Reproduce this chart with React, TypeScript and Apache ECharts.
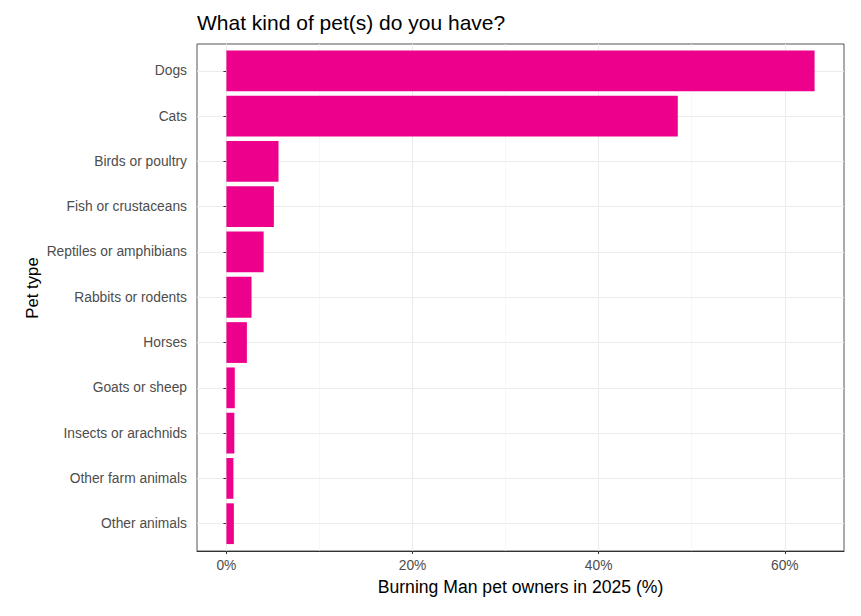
import React, { useEffect, useRef } from "react";
import * as echarts from "echarts";

const categories = [
  "Dogs",
  "Cats",
  "Birds or poultry",
  "Fish or crustaceans",
  "Reptiles or amphibians",
  "Rabbits or rodents",
  "Horses",
  "Goats or sheep",
  "Insects or arachnids",
  "Other farm animals",
  "Other animals",
];
const values = [63.2, 48.5, 5.6, 5.1, 4.0, 2.7, 2.2, 0.9, 0.85, 0.75, 0.8];
const majorTicks = [0, 20, 40, 60];
const minorTicks = [10, 30, 50];
const xMin = -3.16;
const xMax = 66.36;

const TITLE = "What kind of pet(s) do you have?";
const X_NAME = "Burning Man pet owners in 2025 (%)";
const Y_NAME = "Pet type";

const FONT = "'Liberation Sans', Arial, sans-serif";

export default function App() {
  const ref = useRef<HTMLDivElement>(null);
  useEffect(() => {
    if (!ref.current) return;
    const chart = echarts.init(ref.current, null, { renderer: "svg" });
    chart.setOption({
      animation: false,
      backgroundColor: "#ffffff",
      title: {
        text: TITLE,
        left: 197,
        top: 12,
        padding: 0,
        textStyle: { fontSize: 21, fontWeight: "normal", color: "#000", fontFamily: FONT },
      },
      graphic: [
        {
          type: "text",
          x: 32,
          y: 288,
          rotation: Math.PI / 2,
          style: {
            text: Y_NAME,
            align: "center",
            verticalAlign: "middle",
            fontSize: 16.8,
            fontFamily: FONT,
            fill: "#000",
          },
        },
      ],
      grid: [
        { left: 197, right: 17, top: 70.8, bottom: 92.3 },
        {
          left: 197,
          right: 17,
          top: 44,
          bottom: 65,
          show: true,
          borderColor: "#555",
          borderWidth: 1,
          backgroundColor: "transparent",
        },
      ],
      xAxis: [
        { gridIndex: 0, type: "value", min: xMin, max: xMax, show: false },
        {
          gridIndex: 1,
          type: "value",
          min: xMin,
          max: xMax,
          axisLine: { show: true, onZero: false, lineStyle: { color: "#333", width: 1 } },
          axisTick: { show: true, length: 3, customValues: majorTicks, lineStyle: { color: "#333" } },
          axisLabel: {
            customValues: majorTicks,
            formatter: "{value}%",
            color: "#4d4d4d",
            fontSize: 13.8,
            fontFamily: FONT,
            margin: 7,
          },
          splitLine: { show: false },
          name: X_NAME,
          nameLocation: "middle",
          nameGap: 27,
          nameTextStyle: { color: "#000", fontSize: 17.6, fontFamily: FONT },
        },
      ],
      yAxis: [
        {
          gridIndex: 0,
          type: "category",
          data: categories,
          inverse: true,
          boundaryGap: false,
          axisLine: { show: false },
          axisTick: { show: true, length: 3, interval: 0, lineStyle: { color: "#333" } },
          axisLabel: { color: "#4d4d4d", fontSize: 13.8, fontFamily: FONT, margin: 10, interval: 0 },
          splitLine: { show: true, interval: 0, lineStyle: { color: "#ebebeb", width: 1 } },
        },
        { gridIndex: 1, type: "value", min: 0, max: 1, show: false },
      ],
      series: [
        {
          type: "scatter",
          xAxisIndex: 1,
          yAxisIndex: 1,
          data: [],
          silent: true,
          markLine: {
            silent: true,
            z: 1,
            symbol: ["none", "none"],
            label: { show: false },
            animation: false,
            data: [
              ...majorTicks.map((v) => ({
                xAxis: v,
                lineStyle: { color: "#ebebeb", width: 1, type: "solid" },
              })),
              ...minorTicks.map((v) => ({
                xAxis: v,
                lineStyle: { color: "#f3f3f3", width: 0.7, type: "solid" },
              })),
            ],
          },
        },
        {
          type: "bar",
          xAxisIndex: 0,
          yAxisIndex: 0,
          data: values,
          barWidth: "90%",
          clip: false,
          z: 3,
          itemStyle: { color: "#EC008C" },
          silent: true,
        },
      ],
    });
    return () => chart.dispose();
  }, []);
  return (
    <div
      ref={ref}
      style={{ position: "fixed", left: 0, top: 0, width: 861, height: 616 }}
    />
  );
}
